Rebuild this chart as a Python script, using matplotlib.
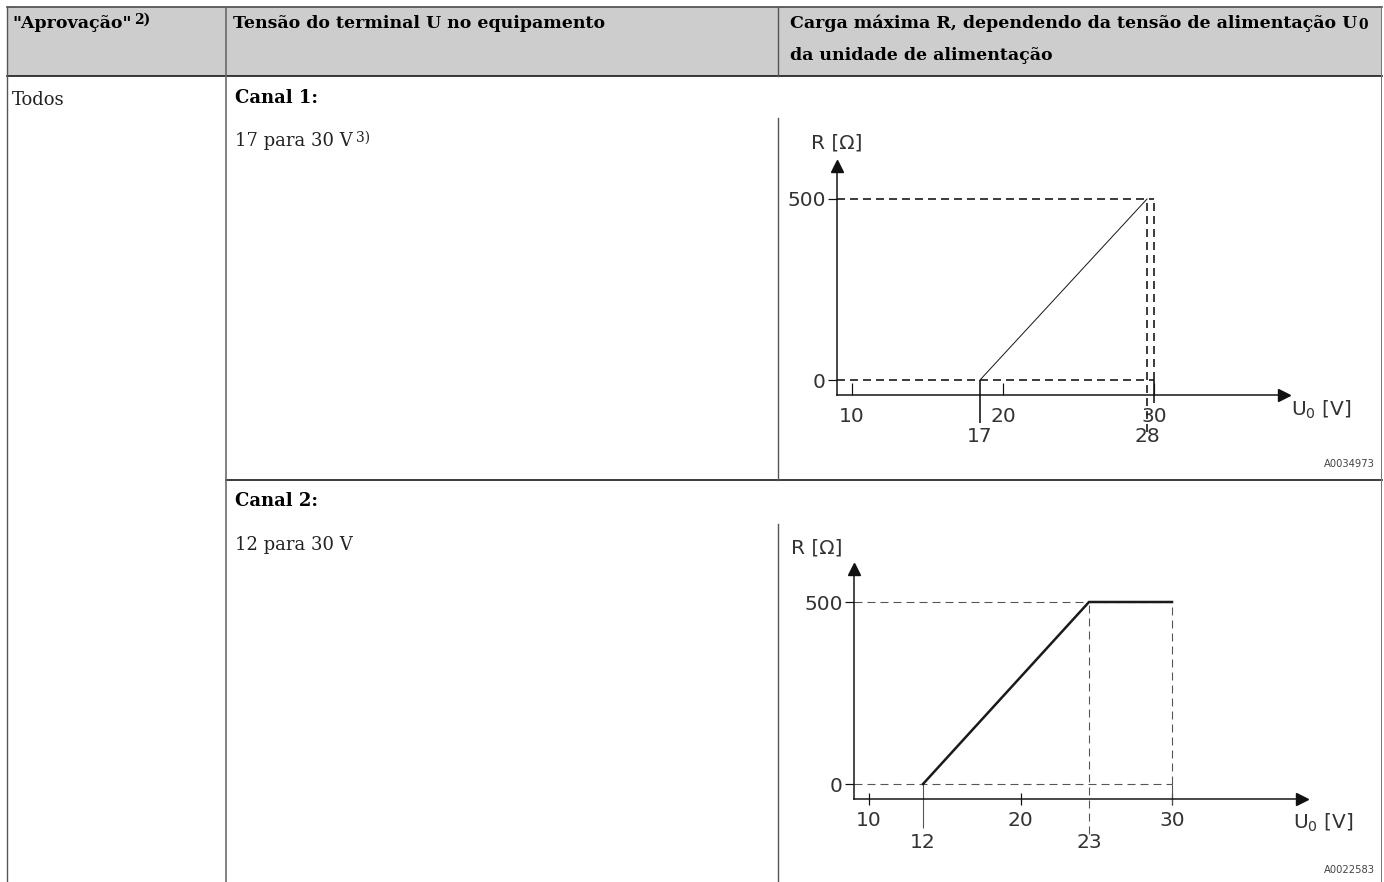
# table with two load diagrams (canal 1 / canal 2)

import matplotlib.pyplot as plt
from matplotlib.patches import Rectangle
import numpy as np

# ------ Data ------
head_approval = '"Aprovação"'
head_terminal = 'Tensão do terminal U no equipamento'
head_load = ['Carga máxima R, dependendo da tensão de alimentação U', 'da unidade de alimentação']
approval = 'Todos'
channels = ['Canal 1:', 'Canal 2:']
voltage_range = ['17 para 30 V', '12 para 30 V']
notes = ['2)', '3)']

u_ticks = [10, 20, 30]
r_ticks = [0, 500]

# canal 1: ramp 17 V -> 28 V
ch1_u = [17, 28]
ch1_r = [0, 500]
ch1_marks = [17, 28]
ch1_code = 'A0034973'

# canal 2: ramp 12 V -> 23 V, then flat to 30 V
ch2_u = [12, 23, 30]
ch2_r = [0, 500, 500]
ch2_marks = [12, 23]
ch2_code = 'A0022583'

# ------ Layout ------
W, H = 1384, 882
DPI = 100
PT = 72 / DPI  # points per pixel

plt.rcParams['mathtext.fontset'] = 'dejavusans'
plt.rcParams['lines.scale_dashes'] = False
serif = 'DejaVu Serif'
sans = 'DejaVu Sans'
txt_col = '#333333'
fs_head = 12.5
fs_body = 13

fig = plt.figure(figsize=(W / DPI, H / DPI), dpi=DPI)
bg = fig.add_axes([0, 0, 1, 1])
bg.set_xlim(0, W)
bg.set_ylim(H, 0)
bg.axis('off')

# header background
bg.add_patch(Rectangle((7, 7), 1375, 69, fc='#cdcdcd', ec='none', zorder=0))

# table lines
bg.plot([7, 1382], [7, 7], color='#444444', lw=1.6 * PT)
bg.plot([7, 1382], [76, 76], color='#111111', lw=1.6 * PT)
bg.plot([226, 1382], [480, 480], color='#111111', lw=1.6 * PT)
bg.plot([7, 7], [7, H], color='#555555', lw=1.4 * PT)
bg.plot([226, 226], [7, H], color='#666666', lw=1.6 * PT)
bg.plot([1381, 1381], [7, H], color='#777777', lw=1.0 * PT)
for y0, y1 in [(7, 76), (118, 480), (524, H)]:
    bg.plot([778, 778], [y0, y1], color='#555555', lw=1.4 * PT)

# header texts
t = bg.text(12, 23, head_approval, family=serif, weight='bold', fontsize=fs_head, va='center', ha='left')
bg.annotate(notes[0], xy=(1, 1), xycoords=t, xytext=(2, 1), textcoords='offset points',
            family=serif, weight='bold', fontsize=10, va='top', ha='left')
bg.text(233, 23, head_terminal, family=serif, weight='bold', fontsize=fs_head, va='center', ha='left')
t = bg.text(790, 23, head_load[0], family=serif, weight='bold', fontsize=fs_head, va='center', ha='left')
bg.annotate('0', xy=(1, 0), xycoords=t, xytext=(1, 0), textcoords='offset points',
            family=serif, weight='bold', fontsize=10, va='bottom', ha='left')
bg.text(790, 55, head_load[1], family=serif, weight='bold', fontsize=fs_head, va='center', ha='left')

# body texts
bg.text(12, 100, approval, family=serif, fontsize=fs_body, va='center', ha='left', color='#222222')
bg.text(235, 98, channels[0], family=serif, weight='bold', fontsize=fs_body, va='center', ha='left')
t = bg.text(235, 141, voltage_range[0], family=serif, fontsize=fs_body, va='center', ha='left', color='#222222')
bg.annotate(notes[1], xy=(1, 1), xycoords=t, xytext=(2, 1), textcoords='offset points',
            family=serif, fontsize=10, va='top', ha='left', color='#222222')
bg.text(235, 501, channels[1], family=serif, weight='bold', fontsize=fs_body, va='center', ha='left')
bg.text(235, 545, voltage_range[1], family=serif, fontsize=fs_body, va='center', ha='left', color='#222222')


def warp(knots, where):
    k = np.asarray(knots, float)
    w = np.asarray(where, float)

    def fwd(x):
        x = np.asarray(x, float)
        return np.where(x < k[0], x - k[0] + w[0],
                        np.where(x > k[-1], x - k[-1] + w[-1], np.interp(x, k, w)))

    def inv(y):
        y = np.asarray(y, float)
        return np.where(y < w[0], y - w[0] + k[0],
                        np.where(y > w[-1], y - w[-1] + k[-1], np.interp(y, w, k)))
    return fwd, inv


# ------ Load diagram ------
def loadplot(g, u, r, marks, code):
    ppu = (g['x30'] - g['x10']) / (u_ticks[2] - u_ticks[0])
    rpp = r_ticks[1] / (g['r0'] - g['r500'])
    left, right = g['yaxis'], g['tip'] - 6
    top, bottom = g['top'] + 6, g['xaxis']

    ax = fig.add_axes([left / W, 1 - bottom / H, (right - left) / W, (bottom - top) / H])

    # schematic axis: marks sit at their drawn positions, not to scale
    knots = sorted(u_ticks + marks)
    where = [k if k in u_ticks else u_ticks[0] + (g['marks'][marks.index(k)] - g['x10']) / ppu for k in knots]
    fwd, inv = warp(knots, where)
    ax.set_xscale('function', functions=(fwd, inv))
    ax.set_xlim(u_ticks[0] + (left - g['x10']) / ppu, u_ticks[0] + (right - g['x10']) / ppu)
    ax.set_ylim((g['r0'] - bottom) * rpp, r_ticks[1] + (g['r500'] - top) * rpp)

    def below(px):
        return (g['r0'] - px) * rpp

    for s in ['top', 'right']:
        ax.spines[s].set_visible(False)
    for s in ['left', 'bottom']:
        ax.spines[s].set_linewidth(1.5 * PT)
        ax.spines[s].set_color('#111111')
    ax.plot(1, 0, '>', color='#111111', ms=9, transform=ax.transAxes, clip_on=False)
    ax.plot(0, 1, '^', color='#111111', ms=9, transform=ax.transAxes, clip_on=False)

    dash = dict(color=g['dcol'], lw=g['dlw'] * PT, linestyle=(0, (8 * PT, 5 * PT)), clip_on=False)
    solid = dict(color=g['dcol'], lw=g['dlw'] * PT, clip_on=False)
    xmin = ax.get_xlim()[0]
    ax.hlines(r_ticks, xmin, u_ticks[-1], **dash)
    ax.vlines(u_ticks[-1], r_ticks[0], r_ticks[1], **dash)
    ax.vlines(u_ticks[-1], below(g['end30']), r_ticks[0], **solid)
    ax.vlines(marks[0], below(g['endm0']), r_ticks[0], **solid)
    ax.vlines(marks[1], below(g['endm1']), r_ticks[1], **dash)

    ax.plot(u, r, color='#1a1a1a', lw=g['lw'] * PT, solid_joinstyle='miter', clip_on=False)

    ax.set_xticks(u_ticks)
    ax.set_xticklabels([str(v) for v in u_ticks])
    ax.set_yticks(r_ticks)
    ax.set_yticklabels([str(v) for v in r_ticks])
    ax.tick_params(axis='x', direction=g['tdir'], length=12 * PT, width=1.2 * PT, color='#111111',
                   pad=g['tpad'], labelsize=14.5, labelcolor=txt_col)
    ax.tick_params(axis='y', direction='out', length=9 * PT, width=1.2 * PT, color='#111111',
                   pad=1.5, labelsize=14.5, labelcolor=txt_col)
    for lab in ax.get_xticklabels() + ax.get_yticklabels():
        lab.set_family(sans)

    for m in marks:
        ax.annotate(str(m), xy=(m, 0), xycoords=ax.get_xaxis_transform(), xytext=(0, -g['mlab'] * PT),
                    textcoords='offset points', ha='center', va='center', fontsize=14.5,
                    family=sans, color=txt_col)

    fig.text(g['rlab'][0] / W, 1 - g['rlab'][1] / H, 'R [Ω]', ha='center', va='center',
             fontsize=14.5, family=sans, color=txt_col)
    fig.text(g['ulab'][0] / W, 1 - g['ulab'][1] / H, 'U$_0$ [V]', ha='left', va='center',
             fontsize=14.5, family=sans, color=txt_col)
    fig.text(1375 / W, 1 - g['code'] / H, code, ha='right', va='center',
             fontsize=7.2, family=sans, color='#444444')
    return ax


geom1 = dict(yaxis=837, xaxis=395, tip=1290, top=160, x10=852, x30=1154, r0=380, r500=199,
             marks=[980, 1147], end30=403, endm0=423, endm1=432,
             dcol='#111111', dlw=1.6, lw=1.0, tdir='in', tpad=8.3,
             rlab=(837, 143), ulab=(1291, 410), code=464, mlab=42)
geom2 = dict(yaxis=854, xaxis=799, tip=1308, top=563, x10=869, x30=1172, r0=784, r500=602,
             marks=[923, 1089], end30=804, endm0=828, endm1=834,
             dcol='#555555', dlw=1.1, lw=2.5, tdir='inout', tpad=4.0,
             rlab=(817, 548), ulab=(1293, 823), code=870, mlab=44)

loadplot(geom1, ch1_u, ch1_r, ch1_marks, ch1_code)
loadplot(geom2, ch2_u, ch2_r, ch2_marks, ch2_code)

fig.savefig('out.png', dpi=DPI)
